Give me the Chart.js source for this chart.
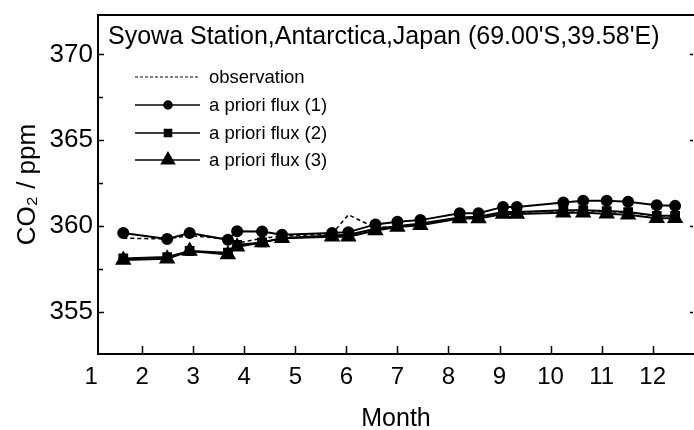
<!DOCTYPE html>
<html>
<head>
<meta charset="utf-8">
<script src="https://cdn.jsdelivr.net/npm/chart.js@4/dist/chart.umd.min.js"></script>
<style>
  html, body { margin: 0; padding: 0; background: #fff; }
  #wrap { width: 694px; height: 430px; }
</style>
</head>
<body>
<div id="wrap"><canvas id="co2Chart" width="694" height="430"></canvas></div>
<script>
// sampling dates (month of year, twice-monthly)
const months = [1.63, 2.49, 2.93, 3.68, 3.86, 4.35, 4.74, 5.72, 6.04, 6.57, 7.0,
                7.45, 8.22, 8.59, 9.07, 9.34, 10.25, 10.64, 11.1, 11.52, 12.08, 12.44];

// CO2 mixing ratio, ppm
const observation = [359.3, 359.25, 359.45, 359.25, 359.0, 359.3, 359.4, 359.55, 360.66, 359.9, 360.0,
                     360.1, 360.5, 360.5, 360.8, 360.8, 360.9, 360.9, 360.85, 360.8, 360.6, 360.6];
const flux1 = [359.6, 359.25, 359.6, 359.2, 359.7, 359.68, 359.5, 359.6, 359.65, 360.1, 360.25,
               360.35, 360.75, 360.75, 361.12, 361.12, 361.38, 361.48, 361.48, 361.42, 361.22, 361.18];
const flux2 = [358.12, 358.2, 358.55, 358.45, 358.9, 359.05, 359.3, 359.45, 359.5, 359.85, 360.0,
               360.15, 360.5, 360.55, 360.82, 360.82, 360.92, 360.92, 360.88, 360.82, 360.6, 360.6];
const flux3 = [358.03, 358.1, 358.55, 358.35, 358.8, 359.05, 359.3, 359.38, 359.38, 359.75, 359.95,
               360.05, 360.45, 360.45, 360.7, 360.7, 360.78, 360.78, 360.72, 360.66, 360.46, 360.46];

const seriesNames = ['observation', 'a priori flux (1)', 'a priori flux (2)', 'a priori flux (3)'];
const monthTicks = [1, 2, 3, 4, 5, 6, 7, 8, 9, 10, 11, 12];
const ppmTicks = [355, 360, 365, 370];
const ppmMinorTicks = [357.5, 362.5, 367.5];
const stationTitle = "Syowa Station,Antarctica,Japan (69.00'S,39.58'E)";

const FONT = "'Liberation Sans', Arial, sans-serif";
const pair = (ys) => ys.map((v, i) => ({ x: months[i], y: v }));

// box around the plot with inward tick marks
const framePlugin = {
  id: 'frame',
  afterDatasetsDraw(chart) {
    const { ctx, chartArea: a, scales: { x, y } } = chart;
    ctx.save();
    ctx.strokeStyle = '#000';
    ctx.lineWidth = 2;
    ctx.beginPath();
    ctx.moveTo(a.left - 1, a.top);
    ctx.lineTo(a.right, a.top);
    ctx.moveTo(a.left, a.top);
    ctx.lineTo(a.left, a.bottom);
    ctx.moveTo(a.left - 1, a.bottom);
    ctx.lineTo(a.right, a.bottom);
    ctx.stroke();

    ctx.lineWidth = 1.5;
    ctx.beginPath();
    monthTicks.forEach((v) => {
      const px = Math.round(x.getPixelForValue(v)) + 0.5;
      if (px < a.left + 3) return;
      ctx.moveTo(px, a.bottom);
      ctx.lineTo(px, a.bottom - 8);
    });
    ppmTicks.forEach((v) => {
      const py = Math.round(y.getPixelForValue(v)) + 0.5;
      ctx.moveTo(a.left, py);
      ctx.lineTo(a.left + 6, py);
      ctx.moveTo(a.right - 4, py);
      ctx.lineTo(a.right - 1, py);
    });
    ppmMinorTicks.forEach((v) => {
      const py = Math.round(y.getPixelForValue(v)) + 0.5;
      ctx.moveTo(a.left, py);
      ctx.lineTo(a.left + 5, py);
    });
    ctx.stroke();

    ctx.fillStyle = '#000';
    ctx.font = `25px ${FONT}`;
    ctx.textBaseline = 'middle';
    ctx.fillText(stationTitle, a.left + 10, a.top + 22);
    ctx.restore();
  }
};

// legend: line sample with the dataset's marker, then the label
const legendPlugin = {
  id: 'lineLegend',
  afterDraw(chart) {
    const { ctx } = chart;
    const rows = [77, 105, 133, 160];
    ctx.save();
    ctx.font = `18.5px ${FONT}`;
    ctx.textBaseline = 'middle';
    chart.data.datasets.forEach((ds, i) => {
      const yy = rows[i];
      ctx.strokeStyle = '#000';
      ctx.fillStyle = '#000';
      ctx.lineWidth = ds.borderDash ? 1 : 1.5;
      ctx.setLineDash(ds.borderDash ? [3, 2] : []);
      ctx.beginPath();
      ctx.moveTo(135, yy);
      ctx.lineTo(200, yy);
      ctx.stroke();
      ctx.setLineDash([]);
      if (ds.pointRadius > 0) {
        Chart.helpers.drawPoint(ctx, {
          pointStyle: ds.pointStyle,
          radius: ds.legendRadius,
          rotation: 0,
          borderWidth: 1
        }, 168, yy);
      }
      ctx.fillText(ds.label, 209, yy + 1);
    });
    ctx.restore();
  }
};

const lineBase = { borderColor: '#000', backgroundColor: '#000', pointBorderColor: '#000',
                   pointBackgroundColor: '#000', tension: 0, fill: false };

new Chart(document.getElementById('co2Chart'), {
  type: 'line',
  data: {
    datasets: [
      { ...lineBase, label: seriesNames[0], data: pair(observation), borderWidth: 1.5,
        borderDash: [4, 3], pointRadius: 0 },
      { ...lineBase, label: seriesNames[1], data: pair(flux1), borderWidth: 2,
        pointStyle: 'circle', pointRadius: 5, legendRadius: 4 },
      { ...lineBase, label: seriesNames[2], data: pair(flux2), borderWidth: 2,
        pointStyle: 'rect', pointRadius: 5.5, legendRadius: 5 },
      { ...lineBase, label: seriesNames[3], data: pair(flux3), borderWidth: 2,
        pointStyle: 'triangle', pointRadius: 7.5, legendRadius: 7.5 }
    ]
  },
  options: {
    responsive: false,
    animation: false,
    devicePixelRatio: 1,
    // no extra room for point overflow: the plot reaches the canvas edge
    layout: { autoPadding: false, padding: { top: 15, right: 0, left: 0, bottom: 0 } },
    plugins: { legend: { display: false }, tooltip: { enabled: false } },
    scales: {
      x: {
        type: 'linear',
        min: 1.135,
        max: 12.81,
        grid: { display: false, drawTicks: false },
        border: { display: false },
        afterBuildTicks: (s) => { s.ticks = monthTicks.map((v) => ({ value: v })); },
        afterFit: (s) => {
          s.height = 76;
          s.paddingLeft = 0;
          s.paddingRight = 0;
        },
        ticks: { color: '#000', font: { family: FONT, size: 24 }, padding: 9,
                 maxRotation: 0, autoSkip: false },
        title: { display: true, text: 'Month', color: '#000',
                 font: { family: FONT, size: 25, lineHeight: 1 }, padding: { top: 0, bottom: -2 } }
      },
      y: {
        min: 352.55,
        max: 372.3,
        grid: { display: false, drawTicks: false },
        border: { display: false },
        afterBuildTicks: (s) => { s.ticks = ppmTicks.map((v) => ({ value: v })); },
        afterFit: (s) => {
          s.width = 98;
          s.paddingTop = 0;
          s.paddingBottom = 0;
        },
        ticks: { color: '#000', font: { family: FONT, size: 26 }, padding: 5 },
        title: { display: true, text: 'CO₂ / ppm', color: '#000',
                 font: { family: FONT, size: 26, lineHeight: 1 }, padding: { top: 15, bottom: 0 } }
      }
    }
  },
  plugins: [framePlugin, legendPlugin]
});
</script>
</body>
</html>
